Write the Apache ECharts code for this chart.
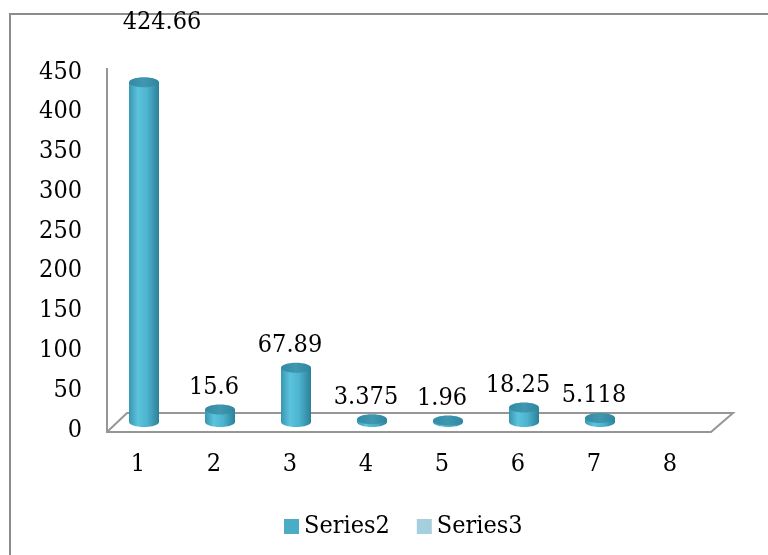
<!DOCTYPE html>
<html>
<head>
<meta charset="utf-8">
<script src="https://cdn.jsdelivr.net/npm/echarts@6/dist/echarts.min.js"></script>
<style>
  html, body { margin: 0; padding: 0; background: #ffffff; }
  #chart { width: 768px; height: 555px; }
</style>
</head>
<body>
<div id="chart"></div>
<script>
// Chart data
const categories = ['1', '2', '3', '4', '5', '6', '7', '8'];
const series2Values = [424.66, 15.6, 67.89, 3.375, 1.96, 18.25, 5.118, null];
const series3Values = [];
const yTickLabels = [0, 50, 100, 150, 200, 250, 300, 350, 400, 450];

const FONT = '"DejaVu Serif Condensed", "DejaVu Serif", "Liberation Serif", serif';
const FONT_SIZE = 25;

const chart = echarts.init(document.getElementById('chart'));

const bodyFill = new echarts.graphic.LinearGradient(0, 0, 1, 0, [
  { offset: 0, color: '#3896b0' },
  { offset: 0.3, color: '#5cc3dd' },
  { offset: 0.6, color: '#4db4cf' },
  { offset: 1, color: '#2c8099' }
]);
const capFill = new echarts.graphic.LinearGradient(0, 0, 1, 0, [
  { offset: 0, color: '#338aa3' },
  { offset: 0.5, color: '#4097b0' },
  { offset: 1, color: '#2f869f' }
]);

// the tallest column's value label sits up and to the right of its cap
function labelShift(index, topY) {
  return topY < 120 ? [24, -38] : [0, 0];
}

function renderCylinder(params, api) {
  const v = api.value(1);
  if (v == null || isNaN(v)) return;
  const idx = api.value(0);
  const top = api.coord([idx, v]);
  const base = api.coord([idx, 0]);
  const w = 30, ry = 5;
  const cx = top[0];
  const shift = labelShift(idx, top[1]);
  return {
    type: 'group',
    children: [
      { type: 'ellipse', shape: { cx: cx, cy: base[1], rx: w / 2, ry: ry }, style: { fill: bodyFill } },
      { type: 'rect', shape: { x: cx - w / 2, y: top[1], width: w, height: base[1] - top[1] }, style: { fill: bodyFill } },
      { type: 'ellipse', shape: { cx: cx, cy: top[1], rx: w / 2, ry: ry }, style: { fill: capFill } },
      {
        type: 'text',
        z2: 10,
        style: {
          text: String(v),
          x: cx - 6 + shift[0],
          y: top[1] - 22 + shift[1],
          align: 'center',
          verticalAlign: 'middle',
          fontFamily: FONT,
          fontSize: FONT_SIZE,
          fill: '#000000'
        }
      }
    ]
  };
}

const lineStyle = { stroke: '#969696', lineWidth: 2, fill: null };

chart.setOption({
  animation: false,
  graphic: [
    { type: 'rect', shape: { x: 10, y: 14, width: 800, height: 600 }, style: { stroke: '#8c8c8c', lineWidth: 2, fill: null } },
    { type: 'polyline', shape: { points: [[107, 68], [107, 432], [711, 432], [733, 413], [127, 413], [107, 432]] }, style: lineStyle }
  ],
  grid: [
    { left: 106, top: 62, width: 608, height: 360 },
    { left: 100, top: 72, width: 608, height: 358 }
  ],
  xAxis: [
    { gridIndex: 0, type: 'category', data: categories, show: false },
    {
      gridIndex: 1, type: 'category', data: categories,
      axisLine: { show: false }, axisTick: { show: false },
      axisLabel: { margin: 22, fontFamily: FONT, fontSize: FONT_SIZE, color: '#000000' }
    }
  ],
  yAxis: [
    { gridIndex: 0, type: 'value', min: yTickLabels[0], max: yTickLabels[yTickLabels.length - 1], interval: yTickLabels[1] - yTickLabels[0], show: false },
    {
      gridIndex: 1, type: 'value',
      min: yTickLabels[0], max: yTickLabels[yTickLabels.length - 1], interval: yTickLabels[1] - yTickLabels[0],
      axisLine: { show: false }, axisTick: { show: false }, splitLine: { show: false },
      axisLabel: { margin: 18, fontFamily: FONT, fontSize: FONT_SIZE, color: '#000000' }
    }
  ],
  legend: {
    left: 279, top: 509,
    itemWidth: 15, itemHeight: 15, itemGap: 27,
    icon: 'rect',
    textStyle: { fontFamily: FONT, fontSize: FONT_SIZE, color: '#000000', padding: [0, 0, 0, 0] },
    data: ['Series2', 'Series3']
  },
  series: [
    {
      name: 'Series2', type: 'custom', xAxisIndex: 0, yAxisIndex: 0,
      itemStyle: { color: '#4bacc6' },
      renderItem: renderCylinder,
      encode: { x: 0, y: 1 },
      data: series2Values.map((v, i) => [i, v])
    },
    {
      name: 'Series3', type: 'custom', xAxisIndex: 0, yAxisIndex: 0,
      itemStyle: { color: '#a5cfdd' },
      renderItem: renderCylinder,
      encode: { x: 0, y: 1 },
      data: series3Values
    }
  ]
});
</script>
</body>
</html>
